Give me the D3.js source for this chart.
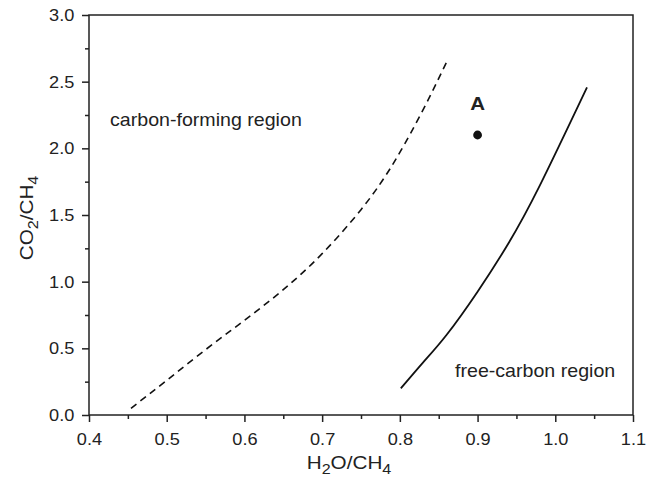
<!DOCTYPE html>
<html><head><meta charset="utf-8">
<script src="https://cdn.jsdelivr.net/npm/d3@7"></script>
<style>body{margin:0;background:#fff}svg{display:block}text{font-family:Arial,"Liberation Sans",sans-serif;fill:#222}</style>
</head><body><svg id="c" width="654" height="477"></svg>
<script>
const dashedX = [0.454, 0.5, 0.55, 0.6, 0.65, 0.7, 0.75, 0.78, 0.8, 0.83, 0.8605];
const dashedY = [0.05, 0.26, 0.49, 0.71, 0.94, 1.21, 1.54, 1.78, 1.97, 2.29, 2.652];
const solidX = [0.8013, 0.83, 0.86, 0.9, 0.94, 0.98, 1.0408];
const solidY = [0.20, 0.395, 0.60, 0.925, 1.29, 1.72, 2.457];
const pointA = [0.9, 2.1];
const xTicks = [0.4, 0.5, 0.6, 0.7, 0.8, 0.9, 1.0, 1.1];
const yTicks = [0.0, 0.5, 1.0, 1.5, 2.0, 2.5, 3.0];

const svg = d3.select("#c");
const L = 89, R = 633, T = 15, B = 415;
const x = d3.scaleLinear().domain([0.4, 1.1]).range([L, R]);
const y = d3.scaleLinear().domain([0, 3]).range([B, T]);
const FONT = "Arial, 'Liberation Sans', sans-serif";

function stretch(sel, s) {
  sel.each(function () {
    const t = d3.select(this);
    const tx = +t.attr("x") || 0, ty = +t.attr("y") || 0;
    t.attr("x", 0).attr("y", 0).attr("transform", `translate(${tx},${ty}) scale(${s},1)`);
  });
}

const g = svg.append("g");
g.append("rect").attr("x", L).attr("y", T).attr("width", R - L).attr("height", B - T)
  .attr("fill", "none").attr("stroke", "#222").attr("stroke-width", 1.5);

const xa = g.append("g").attr("transform", `translate(0,${B})`)
  .call(d3.axisBottom(x).tickValues(xTicks).tickFormat(d3.format(".1f")).tickSize(7).tickPadding(11));
const xm = g.append("g").attr("transform", `translate(0,${B})`)
  .call(d3.axisBottom(x).tickValues(d3.range(0.45, 1.1, 0.1)).tickFormat("").tickSize(4));
const ya = g.append("g").attr("transform", `translate(${L},0)`)
  .call(d3.axisLeft(y).tickValues(yTicks).tickFormat(d3.format(".1f")).tickSize(7).tickPadding(7.7));
const ym = g.append("g").attr("transform", `translate(${L},0)`)
  .call(d3.axisLeft(y).tickValues(d3.range(0.25, 3, 0.5)).tickFormat("").tickSize(4));
[xa, xm, ya, ym].forEach(a => {
  a.select(".domain").remove();
  a.selectAll("line").attr("stroke", "#222").attr("stroke-width", 1.5);
  a.selectAll("text").attr("font-size", 17).attr("fill", "#222").style("font-family", FONT);
});
stretch(xa.selectAll("text"), 1.07);
stretch(ya.selectAll("text"), 1.07);

const line = d3.line().x(d => x(d[0])).y(d => y(d[1])).curve(d3.curveNatural);
g.append("path").datum(dashedX.map((v, i) => [v, dashedY[i]]))
  .attr("d", line).attr("fill", "none").attr("stroke", "#111").attr("stroke-width", 1.6)
  .attr("stroke-dasharray", "7,5");
g.append("path").datum(solidX.map((v, i) => [v, solidY[i]]))
  .attr("d", line).attr("fill", "none").attr("stroke", "#111").attr("stroke-width", 1.8);

g.append("circle").attr("cx", x(pointA[0])).attr("cy", y(pointA[1])).attr("r", 4.4).attr("fill", "#111");
const a = g.append("text").attr("x", x(pointA[0])).attr("y", y(pointA[1]) - 25).attr("text-anchor", "middle")
  .attr("font-size", 19).attr("font-weight", "bold").text("A");
stretch(a, 1.08);

const t1 = g.append("text").attr("x", 110).attr("y", 126).attr("font-size", 18).text("carbon-forming region");
const t2 = g.append("text").attr("x", 455).attr("y", 377).attr("font-size", 18).text("free-carbon region");
stretch(t1, 1.09);
stretch(t2, 1.09);

const xt = g.append("text").attr("x", 349).attr("y", 469).attr("text-anchor", "middle").attr("font-size", 18);
xt.append("tspan").text("H");
xt.append("tspan").attr("font-size", 14).attr("dy", 5).text("2");
xt.append("tspan").attr("dy", -5).text("O/CH");
xt.append("tspan").attr("font-size", 14).attr("dy", 5).text("4");
stretch(xt, 1.15);

const yt = g.append("text").attr("transform", `translate(33,218) rotate(-90) scale(1.15,1)`)
  .attr("text-anchor", "middle").attr("font-size", 18);
yt.append("tspan").text("CO");
yt.append("tspan").attr("font-size", 14).attr("dy", 5).text("2");
yt.append("tspan").attr("dy", -5).text("/CH");
yt.append("tspan").attr("font-size", 14).attr("dy", 5).text("4");
</script></body></html>
